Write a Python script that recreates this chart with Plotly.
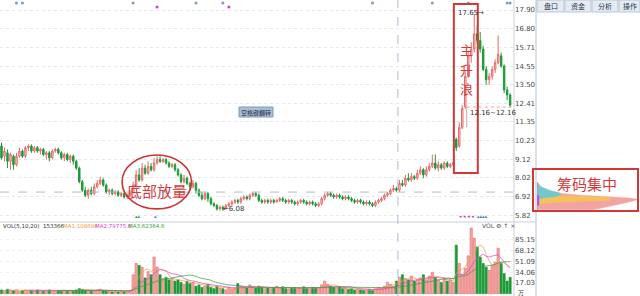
import plotly.graph_objects as go
import pandas as pd

# ---------------- data ----------------
opens = [9.9,9.3,9.5,9.0,9.3,8.8,9.3,9.6,9.3,9.8,
         9.9,9.6,9.8,9.6,9.7,9.4,9.5,9.2,9.6,9.7,
         9.5,9.2,9.4,9.1,9.3,9.0,8.6,7.8,7.3,7.0,
         7.3,7.1,7.5,7.7,7.9,7.6,7.2,7.3,7.1,7.2,
         7.0,7.1,6.9,7.0,7.2,7.6,8.2,7.9,8.6,8.3,
         8.7,8.5,8.9,9.1,9.0,9.1,8.9,8.7,8.8,8.5,
         8.2,7.8,8.0,7.7,7.5,7.7,7.3,7.0,6.8,7.1,
         6.8,6.5,6.4,6.2,6.3,6.2,6.4,6.5,6.6,6.7,
         6.6,6.8,6.9,6.8,7.0,7.1,7.0,6.7,6.6,6.7,
         6.6,6.7,6.6,6.7,6.8,6.7,6.6,6.7,6.6,6.5,
         6.6,6.7,6.6,6.5,6.6,6.5,6.4,6.5,6.8,7.0,
         7.1,7.0,6.9,7.0,6.9,6.8,6.9,6.8,6.7,6.6,
         6.7,6.6,6.5,6.6,6.5,6.4,6.6,6.7,6.8,7.0,
         7.1,7.3,7.4,7.3,7.7,7.6,8.0,7.9,8.1,8.0,
         8.3,8.5,8.2,8.5,8.7,8.9,8.6,8.8,8.6,8.9,
         8.7,8.8,10.3,9.9,11.0,12.2,14.0,15.2,15.6,16.5,
         16.1,15.6,14.4,13.8,14.0,14.4,14.8,15.2,14.6,13.2,
         12.9]
closes = [9.2,9.6,9.0,9.4,8.8,9.3,9.6,9.3,9.8,9.9,
          9.6,9.8,9.6,9.7,9.4,9.5,9.2,9.6,9.7,9.5,
          9.2,9.4,9.1,9.3,9.0,8.6,7.8,7.3,7.0,7.3,
          7.1,7.5,7.7,7.9,7.6,7.2,7.3,7.1,7.2,7.0,
          7.1,6.9,7.0,7.2,7.6,8.2,7.9,8.6,8.3,8.7,
          8.5,8.9,9.1,9.0,9.1,8.9,8.7,8.8,8.5,8.2,
          7.8,8.0,7.7,7.5,7.7,7.3,7.0,6.8,7.1,6.8,
          6.5,6.4,6.2,6.3,6.2,6.4,6.5,6.6,6.7,6.6,
          6.8,6.9,6.8,7.0,7.1,7.0,6.7,6.6,6.7,6.6,
          6.7,6.6,6.7,6.8,6.7,6.6,6.7,6.6,6.5,6.6,
          6.7,6.6,6.5,6.6,6.5,6.4,6.5,6.8,7.0,7.1,
          7.0,6.9,7.0,6.9,6.8,6.9,6.8,6.7,6.6,6.7,
          6.6,6.5,6.6,6.5,6.4,6.6,6.7,6.8,7.0,7.1,
          7.3,7.4,7.3,7.7,7.6,8.0,7.9,8.1,8.0,8.3,
          8.5,8.2,8.5,8.7,8.9,8.6,8.8,8.6,8.9,8.7,
          8.8,8.9,9.8,11.0,12.1,14.0,15.2,15.6,16.5,16.1,
          15.6,14.4,13.8,14.0,14.4,14.8,15.3,14.6,13.2,12.9,
          12.3]
highs = [10.1,9.8,9.7,9.5,9.4,9.5,9.8,9.7,9.9,10.0,
         10.0,9.9,9.9,9.8,9.8,9.6,9.6,9.7,9.8,9.8,
         9.6,9.5,9.5,9.4,9.4,9.1,8.7,7.9,7.5,7.4,
         7.5,7.7,7.9,8.1,8.0,7.7,7.4,7.4,7.3,7.3,
         7.2,7.2,7.1,7.3,7.8,8.5,8.6,8.9,8.8,9.0,
         8.9,9.2,9.3,9.3,9.2,9.2,9.0,8.9,8.9,8.6,
         8.3,8.2,8.1,7.8,7.9,7.8,7.4,7.2,7.2,7.2,
         6.9,6.6,6.5,6.4,6.4,6.5,6.6,6.7,6.8,6.8,
         6.9,7.0,7.0,7.1,7.2,7.2,7.1,6.8,6.8,6.8,
         6.8,6.8,6.8,6.9,6.9,6.8,6.8,6.8,6.7,6.7,
         6.8,6.8,6.7,6.7,6.7,6.6,6.6,6.9,7.1,7.2,
         7.2,7.1,7.1,7.1,7.0,7.0,7.0,6.9,6.8,6.8,
         6.8,6.7,6.7,6.7,6.6,6.7,6.8,6.9,7.1,7.2,
         7.4,7.6,7.5,7.9,7.9,8.2,8.3,8.3,8.2,8.5,
         8.7,8.6,8.7,8.9,9.4,9.4,9.0,8.9,9.0,9.0,
         8.9,9.0,10.4,11.3,12.3,14.3,15.5,16.0,17.65,17.0,
         16.6,15.8,14.6,14.2,14.6,15.0,16.4,15.4,14.7,13.4,
         13.0]
lows = [9.1,9.0,8.6,8.5,8.5,8.7,9.2,9.2,9.2,9.6,
        9.5,9.5,9.5,9.4,9.3,9.1,9.0,9.1,9.5,9.4,
        9.1,9.0,9.0,8.9,8.8,8.5,7.7,7.2,6.9,6.8,
        7.0,7.0,7.4,7.6,7.5,7.1,7.0,7.0,7.0,6.9,
        6.9,6.8,6.8,6.9,7.1,7.5,7.8,7.8,8.2,8.2,
        8.4,8.4,8.8,8.9,8.9,8.8,8.6,8.6,8.4,8.1,
        7.7,7.7,7.6,7.3,7.4,7.1,6.9,6.7,6.7,6.6,
        6.4,6.3,6.1,6.1,6.08,6.2,6.3,6.4,6.5,6.5,
        6.5,6.7,6.7,6.7,6.9,6.9,6.6,6.5,6.5,6.5,
        6.5,6.5,6.6,6.6,6.6,6.5,6.5,6.5,6.4,6.4,
        6.5,6.5,6.4,6.4,6.4,6.3,6.3,6.4,6.7,6.9,
        6.9,6.8,6.8,6.8,6.7,6.7,6.7,6.6,6.5,6.5,
        6.5,6.4,6.4,6.4,6.3,6.3,6.5,6.6,6.7,6.9,
        7.0,7.2,7.2,7.2,7.5,7.5,7.8,7.8,7.9,7.9,
        8.2,8.0,8.1,8.4,8.6,8.5,8.4,8.5,8.5,8.6,
        8.6,8.7,9.6,9.8,10.9,12.1,13.9,14.8,15.4,15.9,
        15.4,14.3,13.5,13.5,13.8,14.2,14.7,14.5,13.0,12.6,
        12.2]
volumes = [6,5,7,6,5,6,4,5,6,5,
           5,4,6,5,4,5,6,5,4,5,
           4,5,4,5,4,6,8,7,6,5,
           4,5,6,7,5,4,4,3,4,3,
           4,3,4,5,30,48,45,42,25,35,
           30,58,42,30,24,26,22,24,20,22,
           18,15,20,16,18,12,14,10,12,15,
           10,8,12,9,8,6,10,7,9,16,
           12,10,9,14,11,9,12,10,8,9,
           8,10,12,9,11,8,7,9,10,8,
           9,11,8,7,10,9,8,14,20,15,
           12,10,9,11,8,9,7,8,6,7,
           6,5,6,7,5,8,10,9,12,18,
           15,12,20,26,30,24,22,28,20,22,
           25,30,22,28,34,26,22,18,24,20,
           22,18,77,48,30,40,60,104,88,74,
           58,48,42,37,45,50,72,48,32,20,
           26]

price_ticks = [17.90, 16.80, 15.71, 14.55, 13.50, 12.41, 11.35, 10.23, 9.12, 8.02, 6.92, 5.82]
price_tick_text = ["17.90", "16.80", "15.71", "14.55", "13.50", "12.41", "11.35", "10.23", "9.12", "8.02", "6.92", "5.82"]
vol_ticks = [17.03, 34.06, 51.09, 68.12, 85.15]
vol_tick_text = ["17.03", "34.06", "51.09", "68.12", "85.15"]

chip_prices = [6.15, 6.25, 6.35, 6.45, 6.55, 6.65, 6.75, 6.85, 6.95, 7.05, 7.15, 7.25, 7.35, 7.45, 7.55, 7.65, 7.75]
chip_total = [55, 65, 72, 80, 88, 95, 100, 90, 60, 35, 20, 12, 8, 5, 3, 2, 1]
chip_middle = [0, 0, 0, 0, 12, 45, 74, 72, 30, 5, 0, 0, 0, 0, 0, 0, 0]
chip_upper = [0, 0, 0, 0, 0, 0, 0, 8, 20, 24, 22, 15, 10, 6, 3, 1, 0]
chip_recent = [0, 0, 0, 2, 2, 2, 2, 2, 2, 0, 0, 0, 0, 0, 0, 0, 0]

top_blue_idx = [5, 7, 44, 65, 74, 124, 144, 156, 169, 170]
top_pink_idx = [52, 76]

ma_windows = [5, 10, 20]
ma_colors = ["#f0a040", "#d848d0", "#3aa03a"]

# ---------------- helpers ----------------
W, H = 640.0, 296.0
def px(x):
    return x / W
def py(y):
    return 1 - y / H

RED = "#d23c3c"
idx = list(range(len(closes)))

fig = go.Figure()

fig.add_trace(go.Candlestick(
    x=idx, open=opens, high=highs, low=lows, close=closes,
    increasing=dict(line=dict(color="#e66a6a", width=1), fillcolor="#fbd6d6"),
    decreasing=dict(line=dict(color="#1e9a38", width=1), fillcolor="#1e9a38"),
    whiskerwidth=0, xaxis="x", yaxis="y", showlegend=False, hoverinfo="skip"))

# top signal markers
fig.add_trace(go.Scatter(x=top_blue_idx, y=[18.31] * len(top_blue_idx), mode="markers",
                         marker=dict(size=3, color="#7d9cc4"), xaxis="x", yaxis="y",
                         showlegend=False, hoverinfo="skip"))
fig.add_trace(go.Scatter(x=top_pink_idx, y=[18.08] * len(top_pink_idx), mode="markers",
                         marker=dict(size=3, color="#d040c0"), xaxis="x", yaxis="y",
                         showlegend=False, hoverinfo="skip"))

# volume bars
bar_fill = ["#f5a8a8" if c > o else "#1e9a38" for o, c in zip(opens, closes)]
bar_line = ["#e36a6a" if c > o else "#1e9a38" for o, c in zip(opens, closes)]
fig.add_trace(go.Bar(x=idx, y=volumes, marker=dict(color=bar_fill, line=dict(color=bar_line, width=0.6)),
                     xaxis="x2", yaxis="y2", showlegend=False, hoverinfo="skip"))
vs = pd.Series(volumes, dtype=float)
for w, col in zip(ma_windows, ma_colors):
    fig.add_trace(go.Scatter(x=idx, y=vs.rolling(w).mean(), mode="lines",
                             line=dict(color=col, width=0.9), opacity=0.8,
                             xaxis="x2", yaxis="y2", showlegend=False, hoverinfo="skip"))

# chip distribution
for vals, col in [(chip_total, "#f4a3a3"), (chip_middle, "#f3c35a"),
                  (chip_upper, "#74c6c8"), (chip_recent, "#c050e0")]:
    fig.add_trace(go.Scatter(x=vals, y=chip_prices, mode="lines", fill="tozerox",
                             line=dict(color=col, width=0.5, shape="spline"), fillcolor=col,
                             xaxis="x3", yaxis="y3", showlegend=False, hoverinfo="skip"))

xdom = [0, 514 / W]
prange = [17.90 - 212 / 17.0, 17.90 + 10 / 17.0]
vrange = [-(296 - 293.7) / 10.75 * 17.03, (293.7 - 222) / 10.75 * 17.03]

axis_font = dict(family="DejaVu Sans", size=7, color="#4a4a4a")
fig.update_layout(
    width=640, height=296,
    margin=dict(l=0, r=0, t=0, b=0, autoexpand=False),
    paper_bgcolor="white", plot_bgcolor="white",
    xaxis=dict(domain=xdom, range=[-0.5, 171.3], anchor="y", showticklabels=False,
               showgrid=False, zeroline=False, rangeslider=dict(visible=False), fixedrange=True),
    yaxis=dict(domain=[py(222), 1], range=prange, side="right", anchor="x",
               tickvals=price_ticks, ticktext=price_tick_text, tickfont=axis_font,
               showgrid=True, gridcolor="#e3e8ef", griddash="dot", zeroline=False, ticks=""),
    xaxis2=dict(domain=xdom, range=[-0.5, 171.3], anchor="y2", showticklabels=False,
                showgrid=False, zeroline=False),
    yaxis2=dict(domain=[0, py(222)], range=vrange, side="right", anchor="x2",
                tickvals=vol_ticks, ticktext=vol_tick_text, tickfont=axis_font,
                showgrid=True, gridcolor="#eef1f5", griddash="dot", zeroline=False, ticks=""),
    xaxis3=dict(domain=[537 / W, 638 / W], range=[0, 101], anchor="y3", visible=False),
    yaxis3=dict(domain=[py(222), 1], range=prange, anchor="x3", visible=False),
    bargap=0.25,
)

shapes = []
# frame lines
shapes.append(dict(type="line", xref="paper", yref="paper", x0=px(514), x1=px(514), y0=0, y1=1,
                   line=dict(color="#c9d1da", width=1)))
shapes.append(dict(type="line", xref="paper", yref="paper", x0=px(536), x1=px(536), y0=0, y1=1,
                   line=dict(color="#b9c4cf", width=1)))
shapes.append(dict(type="line", xref="paper", yref="paper", x0=0, x1=px(536), y0=py(222), y1=py(222),
                   line=dict(color="#c9d1da", width=1)))
# current price dashed line
shapes.append(dict(type="line", xref="paper", yref="y", x0=0, x1=px(514), y0=7.19, y1=7.19,
                   line=dict(color="#b4bcc6", width=1, dash="dash")))
# vertical dashed divider
shapes.append(dict(type="line", xref="x", yref="paper", x0=132.5, x1=132.5, y0=0, y1=1,
                   line=dict(color="#a9bedb", width=1, dash="dash")))
# range bracket near 12.16
shapes.append(dict(type="line", xref="x", yref="y", x0=155.5, x1=170.5, y0=12.19, y1=12.19,
                   line=dict(color="#eaa0a0", width=1, dash="dot")))
shapes.append(dict(type="line", xref="x", yref="y", x0=155.5, x1=155.5, y0=12.19, y1=11.0,
                   line=dict(color="#d9a0a0", width=1)))
# ellipse
shapes.append(dict(type="circle", xref="x", yref="y", x0=40.3, x1=63.5, y0=6.2, y1=9.37,
                   line=dict(color="#cc3535", width=1.6)))
# main rally box
shapes.append(dict(type="rect", xref="x", yref="y", x0=151.2, x1=159.2, y0=8.31, y1=18.25,
                   line=dict(color="#d03838", width=2)))
# chip box
shapes.append(dict(type="rect", xref="paper", yref="paper", x0=px(533), x1=px(638), y0=py(211), y1=py(169),
                   line=dict(color="#d03838", width=2)))
# button
shapes.append(dict(type="rect", xref="paper", yref="paper", x0=px(239), x1=px(273), y0=py(117), y1=py(107),
                   line=dict(color="#7f9ab5", width=1), fillcolor="#a9c0d8"))
# tabs
tab_edges = [(537, 564), (565, 591), (592, 618), (619, 640)]
for a, b in tab_edges:
    shapes.append(dict(type="rect", xref="paper", yref="paper", x0=px(a), x1=px(b), y0=py(12), y1=1,
                       line=dict(color="#b8c6d6", width=1), fillcolor="#e4ebf3"))
fig.update_layout(shapes=shapes)

ann = []
def text(x, y, s, size=7, color="#333", family="DejaVu Sans", xanchor="center"):
    ann.append(dict(xref="paper", yref="paper", x=px(x), y=py(y), text=s, showarrow=False,
                    font=dict(size=size, color=color, family=family), xanchor=xanchor, yanchor="middle",
                    borderpad=0))

cjk = "Noto Sans CJK SC"
text(157, 190, "底部放量", size=15, color=RED, family=cjk)
for ch, yy in zip(["主", "升", "浪"], [50, 69, 88]):
    text(466, yy, ch, size=13, color=RED, family=cjk)
text(587, 183, "筹码集中", size=15, color=RED, family=cjk)
text(457, 13, "17.65→", size=7, color="#333", xanchor="left")
text(469, 113, "12.16~12.16", size=7, color="#333", xanchor="left")
text(222, 209, "←6.08", size=7, color="#333", xanchor="left")
text(256, 112, "空格键翻转", size=6, color="#223", family=cjk)
for lab, xx in zip(["盘口", "资金", "分析", "操作"], [551, 578, 605, 630]):
    text(xx, 6, lab, size=7, color="#2d3a4a", family=cjk)
# volume header
text(2, 226, "VOL(5,10,20)", size=5.5, color="#333", xanchor="left")
text(42, 226, "153366", size=5.5, color="#333", xanchor="left")
text(62, 226, "MA1:108698", size=5.5, color=ma_colors[0], xanchor="left")
text(94, 226, "MA2:79775.6", size=5.5, color=ma_colors[1], xanchor="left")
text(127, 226, "MA3:62364.6", size=5.5, color=ma_colors[2], xanchor="left")
text(481, 225, "VOL ⚙ ↑ ×", size=6, color="#555", xanchor="left")
text(517, 292, "万", size=6, color="#333", family=cjk, xanchor="left")
# signal glyphs at the bottom of the price panel
text(138, 216, "▴▴", size=5, color="#2aa03a")
text(155, 216, "▴", size=5, color="#4a7ac8")
text(458, 216, "◂ ◂ ◂ ◂", size=5, color="#c040c0", xanchor="left")
text(476, 216, "▴▴▴▴", size=5, color="#4a7ac8", xanchor="left")
fig.update_layout(annotations=ann)

fig.write_html("out.html")
